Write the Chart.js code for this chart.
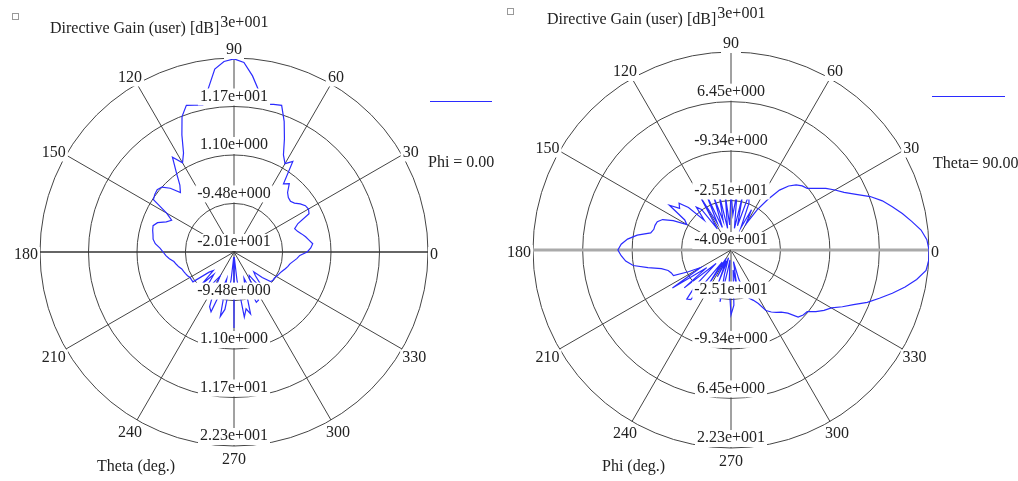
<!DOCTYPE html>
<html><head><meta charset="utf-8">
<script src="https://cdn.jsdelivr.net/npm/chart.js@4.4.1/dist/chart.umd.min.js"></script>
<style>
html,body{margin:0;padding:0;background:#fff;}
#wrap{position:relative;width:1018px;height:481px;overflow:hidden;background:#fff;}
#c1{position:absolute;left:0;top:0;}
#c2{position:absolute;left:500px;top:0;}
</style></head><body>
<div id="wrap">
<canvas id="c1" width="500" height="481"></canvas>
<canvas id="c2" width="518" height="481"></canvas>
</div>
<script>
// ---- categories: angle in degrees (0 = right, counter-clockwise) ----
const thetaDeg = [
  0,3,6,9,12,15,18,21,24,27,
  30,33,36,39,42,45,48,51,54,57,
  60,63,66,69,72,75,78,81,84,87,
  90,93,96,99,102,105,108,111,114,117,
  120,123,126,129,132,135,138,141,144,147,
  150,153,156,159,162,165,168,171,174,177,
  180,183,186,189,192,195,198,201,204,207,
  210,213,216,219,222,225,228,231,234,237,
  240,243,246,249,252,255,258,261,264,267,
  270,273,276,279,282,285,288,291,294,297,
  300,303,306,309,312,315,318,321,324,327,
  330,333,336,339,342,345,348,351,354,357
];
// ---- left plot: Directive Gain [dB] vs Theta, Phi = 0 ----
const gainTheta = [
  -4.1, -3.3, -2.8, -3.5, -4.1, -4.8, -5.5, -5.9, -4.8, -1.7,
  -1.3, -1.5, -2.2, -3.1, -3.5, -3.3, -2.6, -0.9, -1.7, 3.5,
  2.2, 3.7, 7.0, 10.5, 13.6, 13.3, 12.9, 15.3, 18.6, 21.4,
  22.1, 21.6, 20.1, 16.0, 12.7, 13.1, 13.6, 11.6, 7.9, 4.2,
  2.4, 4.6, 1.3, -1.3, -2.6, -0.4, 1.1, 1.5, 1.3, 0.9,
  -3.1, -4.8, -3.9, -2.2, -1.5, -1.7, -2.0, -2.2, -2.8, -3.9,
  -4.6, -5.2, -5.9, -6.8, -7.2, -7.6, -8.1, -8.3, -8.5, -8.7,
  -9.0, -9.0, -9.0, -13.1, -14.0, -10.3, -13.5, -11.4, -9.2, -12.5,
  -14.0, -10.3, -7.0, -6.1, -11.4, -14.0, -5.7, -7.4, -14.0, -19.0,
  -3.5, -19.0, -14.0, -5.7, -7.4, -6.1, -12.5, -14.0, -8.1, -8.3,
  -13.5, -14.0, -11.4, -10.3, -13.1, -14.0, -11.8, -9.8, -9.6, -9.6,
  -9.4, -9.2, -9.0, -8.7, -8.3, -7.9, -7.6, -7.0, -6.3, -5.7
];
// ---- right plot: Directive Gain [dB] vs Phi, Theta = 90 ----
const gainPhi = [
  22.3, 21.7, 20.1, 17.5, 15.0, 12.4, 9.9, 6.7, 2.8, -0.4,
  -2.6, -4.8, -7.4, -9.6, -10.3, -11.5, -13.4, -16.3, -21.1, -25.6,
  -31.3, -26.5, -33.2, -24.9, -22.4, -32.9, -23.3, -33.9, -22.4, -29.7,
  -21.7, -32.9, -23.3, -33.9, -22.4, -31.3, -23.3, -33.2, -21.7, -31.3,
  -21.7, -32.9, -24.9, -23.3, -28.1, -21.7, -18.6, -19.8, -16.6, -23.3,
  -24.6, -20.2, -17.0, -15.7, -15.4, -15.4, -14.7, -10.6, -7.7, -5.8,
  -4.8, -5.8, -7.1, -9.3, -13.8, -17.9, -19.8, -20.5, -20.8, -25.6,
  -29.7, -18.6, -31.3, -21.7, -34.5, -24.9, -19.8, -20.5, -36.1, -28.1,
  -37.7, -31.3, -37.1, -29.7, -38.3, -32.9, -24.0, -34.5, -37.7, -29.7,
  -20.2, -23.3, -34.5, -28.1, -37.1, -31.3, -25.6, -24.3, -23.3, -21.7,
  -18.6, -17.3, -16.3, -15.4, -13.8, -10.6, -9.9, -9.6, -7.4, -5.5,
  -3.9, -1.0, 1.9, 5.7, 8.9, 12.4, 15.9, 19.1, 21.7, 22.3
];
// ---- radial ring values and their tick labels ----
const ringValuesLeft = [-20.1, -9.48, 1.10, 11.7, 22.3];
const ringLabelsLeft = ['-2.01e+001', '-9.48e+000', '1.10e+000', '1.17e+001', '2.23e+001'];
const ringValuesRight = [-40.9, -25.1, -9.34, 6.45, 22.3];
const ringLabelsRight = ['-4.09e+001', '-2.51e+001', '-9.34e+000', '6.45e+000', '2.23e+001'];
// ---- angular tick labels ----
const angleTicks = [0, 30, 60, 90, 120, 150, 180, 210, 240, 270, 300, 330];

const FONT = '16px "Liberation Serif", "DejaVu Serif", serif';
const TXT = '#222';
const LINE_BLUE = '#2b2bff';

// radar index 0 sits at the right (startAngle 90) and runs clockwise,
// so read the counter-clockwise lists backwards
function radarOrder(arr) { const n = arr.length; return arr.map((_, i) => arr[(n - i) % n]); }

const polarLabelsPlugin = {
  id: 'polarLabels',
  afterDatasetsDraw(chart, args, o) {
    const s = chart.scales.r, ctx = chart.ctx;
    const cx = s.xCenter, cy = s.yCenter, R = s.drawingArea;
    ctx.save();
    ctx.font = FONT; ctx.textAlign = 'center'; ctx.textBaseline = 'middle';
    const box = (t, x, y) => {
      const w = ctx.measureText(t).width;
      ctx.fillStyle = '#fff';
      ctx.fillRect(x - w / 2 - 2, y - 8, w + 4, 17);
      ctx.fillStyle = TXT;
      ctx.fillText(t, x, y);
    };
    const n = o.values.length;
    o.values.forEach((v, i) => {
      const d = s.getDistanceFromCenterForValue(v);
      const t = o.labels[i];
      if (i === 0) { box(t, cx, cy - 10); return; }
      if (i < n - 1) box(t, cx, cy - d - 10);
      box(t, cx, cy + d - 10);
    });
    angleTicks.forEach(a => {
      const rad = a * Math.PI / 180;
      const c = Math.cos(rad), sn = Math.sin(rad);
      const t = String(a);
      const w = ctx.measureText(t).width;
      const px = cx + R * c, py = cy - R * sn;
      const x = px + c * (w / 2 + 2);
      const y = py + 3 - 11 * sn;
      box(t, x, y);
    });
    ctx.restore();
  },
  afterDraw(chart, args, o) {
    const ctx = chart.ctx;
    ctx.save();
    ctx.strokeStyle = '#999'; ctx.lineWidth = 1;
    ctx.strokeRect(o.sq[0] + 0.5, o.sq[1] + 0.5, 6, 6);
    ctx.font = FONT; ctx.fillStyle = TXT; ctx.textBaseline = 'middle'; ctx.textAlign = 'left';
    const title = 'Directive Gain (user) [dB]';
    ctx.fillText(title, o.title[0], o.title[1]);
    const tw = ctx.measureText(title).width;
    ctx.font = '16px "Liberation Serif", "DejaVu Serif", serif';
    ctx.fillText('3e+001', o.title[0] + tw + 1, o.title[1] - 6);
    ctx.font = FONT;
    ctx.fillText(o.cut, o.cutPos[0], o.cutPos[1]);
    ctx.fillText(o.axis, o.axisPos[0], o.axisPos[1]);
    ctx.strokeStyle = LINE_BLUE; ctx.lineWidth = 1.2;
    ctx.beginPath(); ctx.moveTo(o.leg[0], o.leg[2]); ctx.lineTo(o.leg[1], o.leg[2]); ctx.stroke();
    ctx.restore();
  }
};

function makeChart(id, gains, ringValues, ringLabels, padding, extra, horizStyle) {
  return new Chart(document.getElementById(id), {
    type: 'radar',
    data: {
      labels: radarOrder(thetaDeg),
      datasets: [{
        data: radarOrder(gains),
        borderColor: LINE_BLUE, borderWidth: 1.2,
        pointRadius: 0, fill: false, tension: 0
      }]
    },
    options: {
      responsive: false, animation: false, events: [],
      layout: { padding },
      plugins: {
        legend: { display: false }, tooltip: { enabled: false },
        polarLabels: Object.assign({ values: ringValues, labels: ringLabels }, extra)
      },
      scales: {
        r: {
          min: ringValues[0], max: ringValues[ringValues.length - 1],
          startAngle: 90,
          afterBuildTicks: (s) => { s.ticks = ringValues.map(v => ({ value: v })); },
          ticks: { display: false },
          pointLabels: { display: false },
          grid: { circular: true, color: '#444', lineWidth: 1 },
          angleLines: {
            color: (c) => {
              const a = Number(c.label);
              if (a % 30 !== 0) return 'rgba(0,0,0,0)';
              return (a === 0 || a === 180) ? horizStyle[0] : '#444';
            },
            lineWidth: (c) => {
              const a = Number(c.label);
              if (a % 30 !== 0) return 0;
              return (a === 0 || a === 180) ? horizStyle[1] : 1;
            }
          }
        }
      }
    },
    plugins: [polarLabelsPlugin]
  });
}

makeChart('c1', gainTheta, ringValuesLeft, ringLabelsLeft,
  { left: 40, top: 58, right: 72, bottom: 35 },
  { sq: [12, 13], title: [50, 29], cut: 'Phi = 0.00', cutPos: [428, 163],
    axis: 'Theta (deg.)', axisPos: [97, 467], leg: [430, 492, 101.5] },
  ['#333', 1.5]);

makeChart('c2', gainPhi, ringValuesRight, ringLabelsRight,
  { left: 33, top: 52, right: 89, bottom: 33 },
  { sq: [7, 8], title: [47, 20], cut: 'Theta= 90.00', cutPos: [433, 164],
    axis: 'Phi (deg.)', axisPos: [102, 467], leg: [432, 505, 96.5] },
  ['#aaa', 3]);
</script>
</body></html>
